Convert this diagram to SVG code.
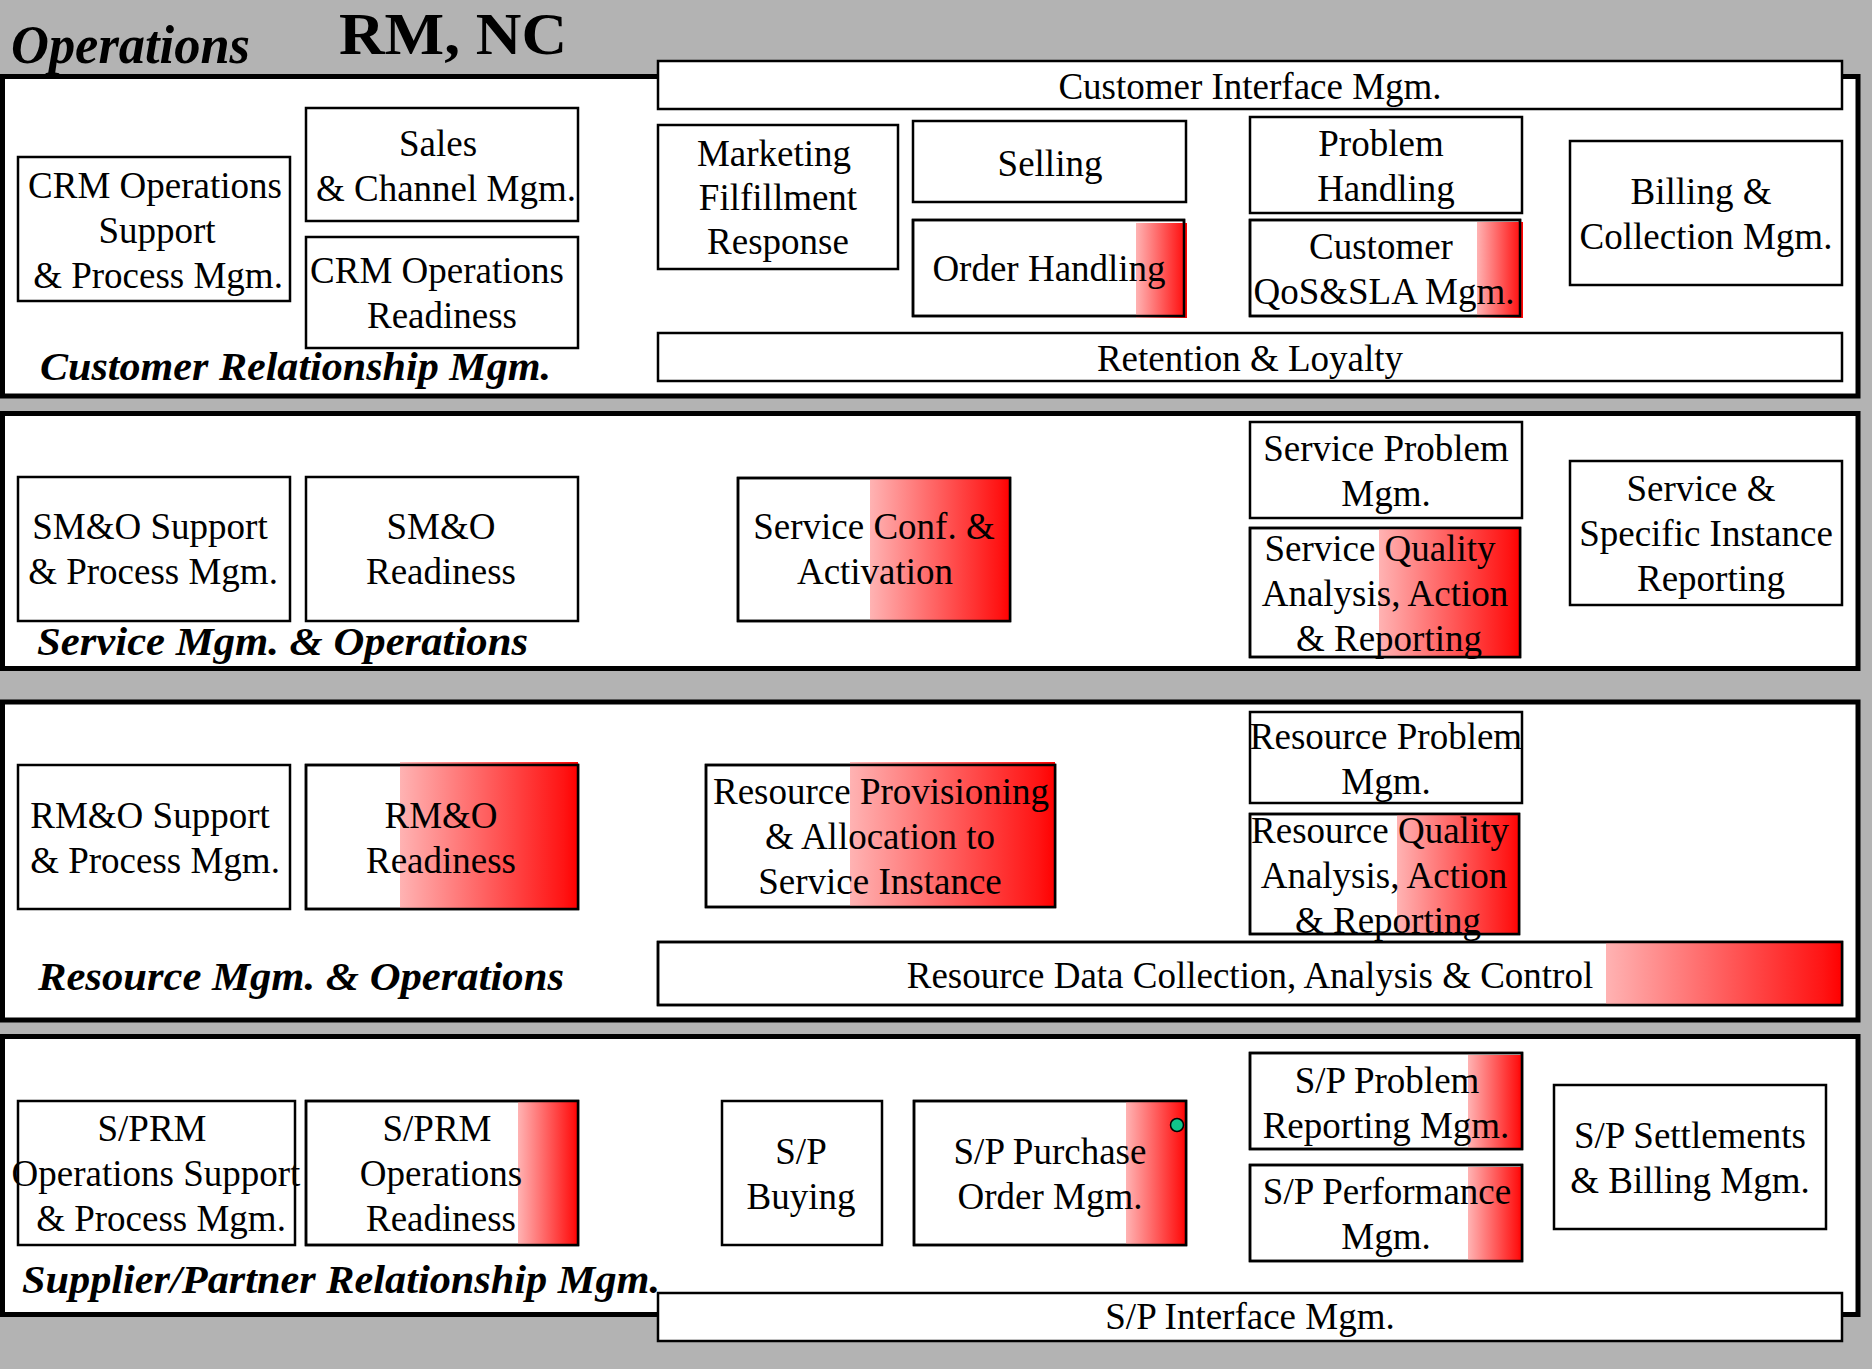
<svg xmlns="http://www.w3.org/2000/svg" width="1872" height="1369" viewBox="0 0 1872 1369">
  <defs>
    <linearGradient id="hot" x1="0" y1="0" x2="1" y2="0">
      <stop offset="0" stop-color="#ffb3b3"/>
      <stop offset="0.92" stop-color="#ff1414"/>
      <stop offset="1" stop-color="#ff0000"/>
    </linearGradient>
    <style>
      .layer { fill: #ffffff; stroke: #000000; stroke-width: 5; }
      .box { fill: #ffffff; stroke: #000000; stroke-width: 2.5; }
      .edge { fill: none; stroke: #000000; stroke-width: 2.5; }
      .hot { fill: url(#hot); }
      .lbl { font-family: "Liberation Serif", "Times New Roman", serif; font-size: 37px; fill: #000000; text-anchor: middle; }
      .layerName { font-family: "Liberation Serif", "Times New Roman", serif; font-size: 41px; font-weight: bold; font-style: italic; fill: #000000; }
      .title { font-family: "Liberation Serif", "Times New Roman", serif; font-weight: bold; fill: #000000; }
      .dot { fill: #11c48a; stroke: #000000; stroke-width: 1.5; }
    </style>
  </defs>

  <!-- page background -->
  <rect x="0" y="0" width="1872" height="1369" fill="#b3b3b3"/>

  <!-- headings -->
  <text class="title" x="11" y="63" font-size="55" font-style="italic" textLength="239" lengthAdjust="spacingAndGlyphs">Operations</text>
  <text class="title" x="339" y="54" font-size="60" textLength="228" lengthAdjust="spacingAndGlyphs">RM, NC</text>

  <!-- horizontal layers -->
  <g id="layers">
    <rect id="layer-crm" class="layer" x="2.5" y="76.5" width="1855.5" height="319.5"/>
    <rect id="layer-smo" class="layer" x="2.5" y="413.5" width="1855.5" height="255"/>
    <rect id="layer-rmo" class="layer" x="2.5" y="702" width="1855.5" height="318"/>
    <rect id="layer-sprm" class="layer" x="2.5" y="1036.5" width="1855.5" height="278"/>
  </g>

  <g id="layer-names">
    <text class="layerName" x="40" y="380" textLength="511" lengthAdjust="spacingAndGlyphs">Customer Relationship Mgm.</text>
    <text class="layerName" x="37" y="655" textLength="491" lengthAdjust="spacingAndGlyphs">Service Mgm. &amp; Operations</text>
    <text class="layerName" x="38" y="990" textLength="526" lengthAdjust="spacingAndGlyphs">Resource Mgm. &amp; Operations</text>
    <text class="layerName" x="22" y="1293" textLength="638" lengthAdjust="spacingAndGlyphs">Supplier/Partner Relationship Mgm.</text>
  </g>

  <!-- no links between the process boxes -->
  <g id="connectors"/>

  <!-- Customer Relationship Mgm. -->
  <g id="crm-ops-support">
    <rect class="box" x="18" y="157" width="272" height="144"/>
    <text class="lbl"><tspan x="155" y="198">CRM Operations</tspan><tspan x="157" y="243">Support</tspan><tspan x="158" y="288">&amp; Process Mgm.</tspan></text>
  </g>
  <g id="sales-channel">
    <rect class="box" x="306" y="108" width="272" height="113"/>
    <text class="lbl"><tspan x="438" y="156">Sales</tspan><tspan x="446" y="201">&amp; Channel Mgm.</tspan></text>
  </g>
  <g id="crm-ops-readiness">
    <rect class="box" x="306" y="237" width="272" height="111"/>
    <text class="lbl"><tspan x="437" y="283">CRM Operations</tspan><tspan x="442" y="328">Readiness</tspan></text>
  </g>
  <g id="customer-interface">
    <rect class="box" x="658" y="61" width="1184" height="48"/>
    <text class="lbl" x="1250" y="99">Customer Interface Mgm.</text>
  </g>
  <g id="marketing-fulfillment">
    <rect class="box" x="658" y="125" width="240" height="144"/>
    <text class="lbl"><tspan x="774" y="166">Marketing</tspan><tspan x="778" y="210">Filfillment</tspan><tspan x="778" y="254">Response</tspan></text>
  </g>
  <g id="selling">
    <rect class="box" x="913" y="121" width="273" height="81"/>
    <text class="lbl" x="1050" y="176">Selling</text>
  </g>
  <g id="order-handling">
    <rect class="box" x="913" y="220" width="271" height="96"/>
    <rect class="hot" x="1136" y="223" width="51" height="95"/>
    <rect class="edge" x="913" y="220" width="271" height="96"/>
    <text class="lbl" x="1049" y="281">Order Handling</text>
  </g>
  <g id="problem-handling">
    <rect class="box" x="1250" y="117" width="272" height="96"/>
    <text class="lbl"><tspan x="1381" y="156">Problem</tspan><tspan x="1386" y="201">Handling</tspan></text>
  </g>
  <g id="customer-qos-sla">
    <rect class="box" x="1250" y="220" width="270" height="96"/>
    <rect class="hot" x="1477" y="222" width="46" height="96"/>
    <rect class="edge" x="1250" y="220" width="270" height="96"/>
    <text class="lbl"><tspan x="1381" y="259">Customer</tspan><tspan x="1384" y="304">QoS&amp;SLA Mgm.</tspan></text>
  </g>
  <g id="billing-collection">
    <rect class="box" x="1570" y="141" width="272" height="144"/>
    <text class="lbl"><tspan x="1701" y="204">Billing &amp;</tspan><tspan x="1706" y="249">Collection Mgm.</tspan></text>
  </g>
  <g id="retention-loyalty">
    <rect class="box" x="658" y="333" width="1184" height="48"/>
    <text class="lbl" x="1250" y="371">Retention &amp; Loyalty</text>
  </g>

  <!-- Service Mgm. & Operations -->
  <g id="smo-support">
    <rect class="box" x="18" y="477" width="272" height="144"/>
    <text class="lbl"><tspan x="150" y="539">SM&amp;O Support</tspan><tspan x="153" y="584">&amp; Process Mgm.</tspan></text>
  </g>
  <g id="smo-readiness">
    <rect class="box" x="306" y="477" width="272" height="144"/>
    <text class="lbl"><tspan x="441" y="539">SM&amp;O</tspan><tspan x="441" y="584">Readiness</tspan></text>
  </g>
  <g id="service-conf-activation">
    <rect class="box" x="738" y="478" width="272" height="143"/>
    <rect class="hot" x="870" y="478" width="140" height="143"/>
    <rect class="edge" x="738" y="478" width="272" height="143"/>
    <text class="lbl"><tspan x="874" y="539">Service Conf. &amp;</tspan><tspan x="875" y="584">Activation</tspan></text>
  </g>
  <g id="service-problem">
    <rect class="box" x="1250" y="422" width="272" height="96"/>
    <text class="lbl"><tspan x="1386" y="461">Service Problem</tspan><tspan x="1386" y="506">Mgm.</tspan></text>
  </g>
  <g id="service-quality">
    <rect class="box" x="1250" y="528" width="270" height="129"/>
    <rect class="hot" x="1379" y="528" width="141" height="129"/>
    <rect class="edge" x="1250" y="528" width="270" height="129"/>
    <text class="lbl"><tspan x="1380" y="561">Service Quality</tspan><tspan x="1385" y="606">Analysis, Action</tspan><tspan x="1389" y="651">&amp; Reporting</tspan></text>
  </g>
  <g id="service-instance-reporting">
    <rect class="box" x="1570" y="461" width="272" height="144"/>
    <text class="lbl"><tspan x="1701" y="501">Service &amp;</tspan><tspan x="1706" y="546">Specific Instance</tspan><tspan x="1711" y="591">Reporting</tspan></text>
  </g>

  <!-- Resource Mgm. & Operations -->
  <g id="rmo-support">
    <rect class="box" x="18" y="765" width="272" height="144"/>
    <text class="lbl"><tspan x="150" y="828">RM&amp;O Support</tspan><tspan x="155" y="873">&amp; Process Mgm.</tspan></text>
  </g>
  <g id="rmo-readiness">
    <rect class="box" x="306" y="765" width="272" height="144"/>
    <rect class="hot" x="400" y="762" width="178" height="147"/>
    <rect class="edge" x="306" y="765" width="272" height="144"/>
    <text class="lbl"><tspan x="441" y="828">RM&amp;O</tspan><tspan x="441" y="873">Readiness</tspan></text>
  </g>
  <g id="resource-provisioning">
    <rect class="box" x="706" y="765" width="349" height="142"/>
    <rect class="hot" x="850" y="762" width="205" height="145"/>
    <rect class="edge" x="706" y="765" width="349" height="142"/>
    <text class="lbl"><tspan x="881" y="804">Resource Provisioning</tspan><tspan x="880" y="849">&amp; Allocation to</tspan><tspan x="880" y="894">Service Instance</tspan></text>
  </g>
  <g id="resource-problem">
    <rect class="box" x="1250" y="712" width="272" height="91"/>
    <text class="lbl"><tspan x="1386" y="749">Resource Problem</tspan><tspan x="1386" y="794">Mgm.</tspan></text>
  </g>
  <g id="resource-quality">
    <rect class="box" x="1250" y="814" width="269" height="120"/>
    <rect class="hot" x="1397" y="813" width="123" height="122"/>
    <rect class="edge" x="1250" y="814" width="269" height="120"/>
    <text class="lbl"><tspan x="1380" y="843">Resource Quality</tspan><tspan x="1384" y="888">Analysis, Action</tspan><tspan x="1388" y="933">&amp; Reporting</tspan></text>
  </g>
  <g id="resource-data-collection">
    <rect class="box" x="658" y="942" width="1184" height="63"/>
    <rect class="hot" x="1606" y="942" width="236" height="63"/>
    <rect class="edge" x="658" y="942" width="1184" height="63"/>
    <text class="lbl" x="1250" y="988">Resource Data Collection, Analysis &amp; Control</text>
  </g>

  <!-- Supplier/Partner Relationship Mgm. -->
  <g id="sprm-support">
    <rect class="box" x="18" y="1101" width="277" height="144"/>
    <text class="lbl"><tspan x="152" y="1141">S/PRM</tspan><tspan x="156" y="1186">Operations Support</tspan><tspan x="161" y="1231">&amp; Process Mgm.</tspan></text>
  </g>
  <g id="sprm-readiness">
    <rect class="box" x="306" y="1101" width="272" height="144"/>
    <rect class="hot" x="518" y="1101" width="60" height="144"/>
    <rect class="edge" x="306" y="1101" width="272" height="144"/>
    <text class="lbl"><tspan x="437" y="1141">S/PRM</tspan><tspan x="441" y="1186">Operations</tspan><tspan x="441" y="1231">Readiness</tspan></text>
  </g>
  <g id="sp-buying">
    <rect class="box" x="722" y="1101" width="160" height="144"/>
    <text class="lbl"><tspan x="801" y="1164">S/P</tspan><tspan x="801" y="1209">Buying</tspan></text>
  </g>
  <g id="sp-purchase-order">
    <rect class="box" x="914" y="1101" width="272" height="144"/>
    <rect class="hot" x="1126" y="1101" width="60" height="144"/>
    <rect class="edge" x="914" y="1101" width="272" height="144"/>
    <circle class="dot" cx="1177" cy="1125" r="6.5"/>
    <text class="lbl"><tspan x="1050" y="1164">S/P Purchase</tspan><tspan x="1050" y="1209">Order Mgm.</tspan></text>
  </g>
  <g id="sp-problem-reporting">
    <rect class="box" x="1250" y="1053" width="272" height="96"/>
    <rect class="hot" x="1468" y="1055" width="54" height="94"/>
    <rect class="edge" x="1250" y="1053" width="272" height="96"/>
    <text class="lbl"><tspan x="1387" y="1093">S/P Problem</tspan><tspan x="1386" y="1138">Reporting Mgm.</tspan></text>
  </g>
  <g id="sp-performance">
    <rect class="box" x="1250" y="1165" width="272" height="96"/>
    <rect class="hot" x="1468" y="1167" width="54" height="94"/>
    <rect class="edge" x="1250" y="1165" width="272" height="96"/>
    <text class="lbl"><tspan x="1387" y="1204">S/P Performance</tspan><tspan x="1386" y="1249">Mgm.</tspan></text>
  </g>
  <g id="sp-settlements-billing">
    <rect class="box" x="1554" y="1085" width="272" height="144"/>
    <text class="lbl"><tspan x="1690" y="1148">S/P Settlements</tspan><tspan x="1690" y="1193">&amp; Billing Mgm.</tspan></text>
  </g>
  <g id="sp-interface">
    <rect class="box" x="658" y="1293" width="1184" height="48"/>
    <text class="lbl" x="1250" y="1329">S/P Interface Mgm.</text>
  </g>
</svg>
